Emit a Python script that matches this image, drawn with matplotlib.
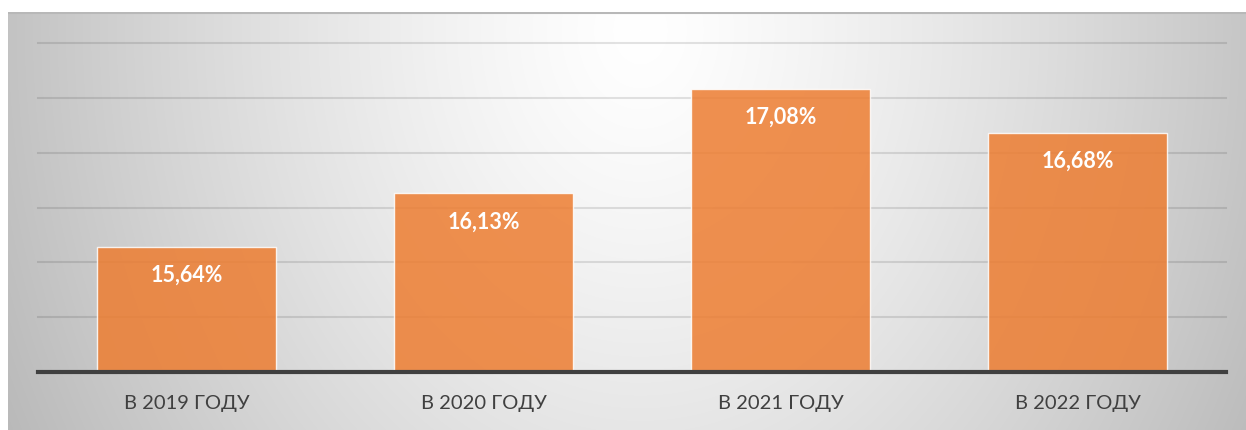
import numpy as np
import matplotlib
matplotlib.use("Agg")
import matplotlib.pyplot as plt

categories = ["В 2019 ГОДУ", "В 2020 ГОДУ", "В 2021 ГОДУ", "В 2022 ГОДУ"]
values = [15.64, 16.13, 17.08, 16.68]
labels = ["15,64%", "16,13%", "17,08%", "16,68%"]
y_min, y_max, y_step = 14.5, 17.5, 0.5

W, H = 1246, 430
fig = plt.figure(figsize=(W / 100, H / 100), dpi=100)
fig.patch.set_facecolor("white")

# background gradient panel
bx0, by_top = 8, 12
bg = fig.add_axes([bx0 / W, 0, 1 - bx0 / W, (H - by_top) / H])
xs = np.arange(bx0, W)
ys = np.arange(by_top, H)
X, Y = np.meshgrid(xs, ys)
d = np.sqrt(((X - 640) / 680.0) ** 2 + ((Y - 30) / 850.0) ** 2)
v = 255 - 66 * np.clip(d, 0, 1.2) ** 1.3
img = np.dstack([v, v, v]) / 255.0
bg.imshow(np.clip(img, 0, 1), aspect="auto", extent=[0, 1, 0, 1], origin="upper")
bg.axhline(1 - 1.0 / (H - by_top), color="#b8b8b8", lw=1.5)
bg.set_axis_off()

# plot axes
px0, px1 = 38, 1226
py_base, py_top = 372, 43
ax = fig.add_axes([px0 / W, (H - py_base) / H, (px1 - px0) / W, (py_base - py_top) / H])
ax.patch.set_alpha(0)
ax.set_xlim(-0.5, len(categories) - 0.5)
ax.set_ylim(y_min, y_max)
for t in np.arange(y_min + y_step, y_max + 1e-9, y_step):
    ax.axhline(t, color="black", alpha=0.11, lw=1.5, clip_on=False, zorder=1)

x = np.arange(len(categories))
ax.bar(x, np.array(values) - y_min, bottom=y_min, width=0.6, color="#ED7D31", alpha=0.85,
       edgecolor=(1, 1, 1, 0.5), linewidth=1.0, zorder=2)
ax.axhline(y_min, color="#404040", lw=3, clip_on=False, zorder=3)

for xi, val, lab in zip(x, values, labels):
    ax.annotate(lab, (xi, val), xytext=(0, -20.5), textcoords="offset points",
                ha="center", va="center", color="white", fontsize=15.5,
                fontweight="bold", family=["Lato", "DejaVu Sans"], zorder=4)

for xi, cat in zip(x, categories):
    ax.annotate(cat, (xi, y_min), xytext=(0, -22.5), textcoords="offset points",
                ha="center", va="center", color="#404040", fontsize=14.5,
                family=["Lato", "DejaVu Sans"], annotation_clip=False)

ax.set_xticks([])
ax.set_yticks([])
for s in ax.spines.values():
    s.set_visible(False)

fig.savefig("out.png", dpi=100)
